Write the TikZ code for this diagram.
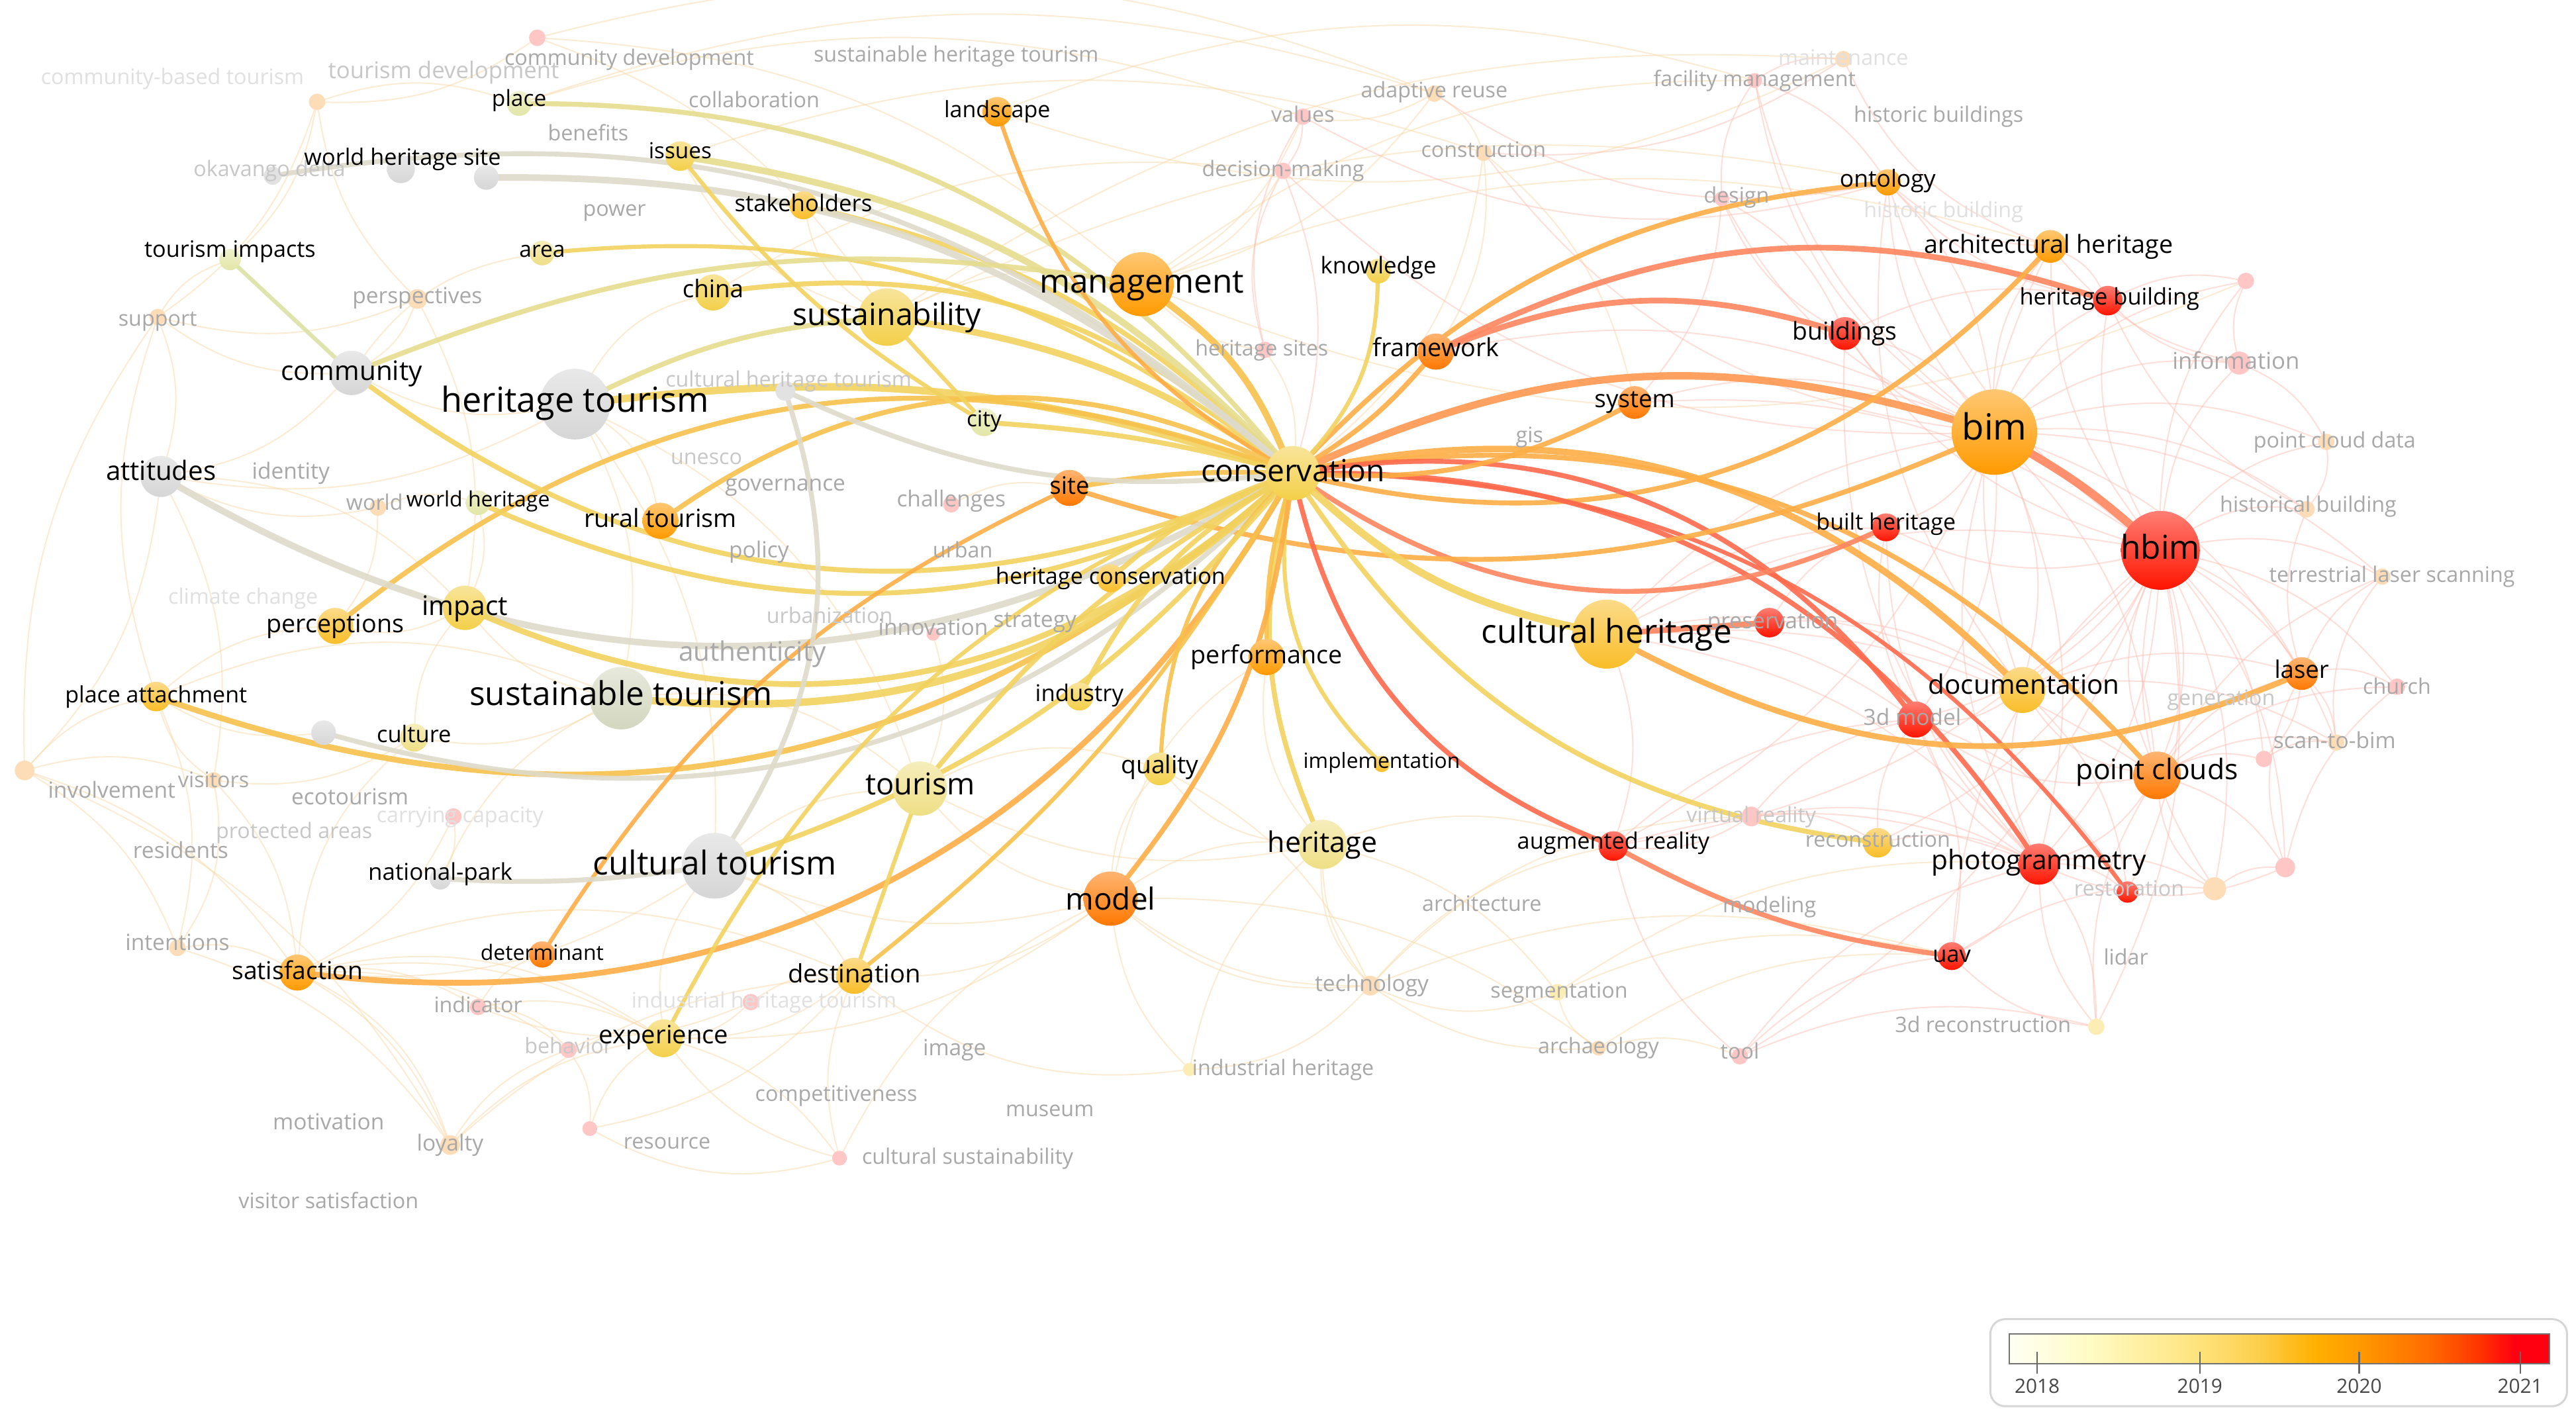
\documentclass[tikz,border=0pt]{standalone}
\usepackage{fontspec}
\setmainfont{Open Sans}
\usetikzlibrary{backgrounds}
\definecolor{nyel}{HTML}{F3CF48}
\definecolor{nyl}{HTML}{EEDF85}
\definecolor{ngold}{HTML}{F9BD28}
\definecolor{norng}{HTML}{FF9A00}
\definecolor{ndor}{HTML}{FF7800}
\definecolor{nred}{HTML}{FF1400}
\definecolor{ngray}{HTML}{D6D6D6}
\definecolor{ngg}{HTML}{D3D7BF}
\definecolor{ngrn}{HTML}{E2E6A6}
\definecolor{fpink}{HTML}{FFC6C6}
\definecolor{forng}{HTML}{FDDCB8}
\definecolor{fyel}{HTML}{FBEDB4}
\definecolor{fgray}{HTML}{E2E2E2}
\definecolor{eyel}{HTML}{F2D25E}
\definecolor{eyg}{HTML}{E6DC8E}
\definecolor{egold}{HTML}{F7C24C}
\definecolor{eorng}{HTML}{FDAE45}
\definecolor{eors}{HTML}{FF9850}
\definecolor{esalm}{HTML}{FF8660}
\definecolor{ered}{HTML}{FF6A4C}
\definecolor{egray}{HTML}{DEDBCB}
\definecolor{egrn}{HTML}{DCE2A6}
\definecolor{fy}{HTML}{F9D9A6}
\definecolor{fp}{HTML}{FDBFB2}
\definecolor{lga}{HTML}{FFFFF4}
\definecolor{lgb}{HTML}{FFFCC6}
\definecolor{lgc}{HTML}{FEE37C}
\definecolor{lgd}{HTML}{FDCE4C}
\definecolor{lge}{HTML}{FFB000}
\definecolor{lgf}{HTML}{FF9A00}
\definecolor{lgg}{HTML}{FF6A00}
\definecolor{lgh}{HTML}{FF3400}
\definecolor{lgi}{HTML}{FF0010}
\tikzset{
  dot/.style={circle, inner sep=0pt, outer sep=0pt, draw=none, minimum size=#1},
  ball/.style={top color=#1!55!white, bottom color=#1},
  lbl/.style={inner sep=0pt, outer sep=0pt, text=black, font=\fontsize{#1}{#1}\selectfont,
              text height={0.74*#1pt}, text depth={0.2*#1pt}},
  flbl/.style={lbl=#1, text=black!34},
  mlbl/.style={lbl=#1, text=black!22},
  vlbl/.style={lbl=#1, text=black!12},
  be/.style={line width=#1, line cap=round, draw opacity=0.9},
  fe/.style={line width=0.8pt, draw=#1, draw opacity=0.5},
}
\begin{document}
\begin{tikzpicture}[x=1pt,y=-1pt]
\useasboundingbox (0,0) rectangle (1568,863);
% ---------- main nodes ----------
\node[dot=33pt, ball=nyel] (cons) at (787,288) {};
\node[dot=39pt, ball=norng] (mgmt) at (695,173) {};
\node[dot=35pt, ball=nyel] (sust) at (540,193) {};
\node[dot=43pt, ball=ngray] (htour) at (350,246) {};
\node[dot=38pt, ball=ngg] (stour) at (378,425) {};
\node[dot=40pt, ball=ngray] (ctour) at (435,527) {};
\node[dot=42pt, ball=ngold] (cher) at (978,386) {};
\node[dot=52pt, ball=norng] (bim) at (1214,263) {};
\node[dot=48pt, ball=nred] (hbim) at (1315,335) {};
\node[dot=33pt, ball=nyl] (tour) at (560,480) {};
\node[dot=33pt, ball=ndor] (model) at (676,547) {};
\node[dot=30pt, ball=nyl] (herit) at (805,514) {};
\node[dot=27pt, ball=ngray] (comm) at (214,227) {};
\node[dot=25pt, ball=ngray] (att) at (98,290) {};
\node[dot=27pt, ball=nyel] (impact) at (283,370) {};
\node[dot=22pt, ball=ngold] (perc) at (204,381) {};
\node[dot=18pt, ball=ngold] (patt) at (95,424) {};
\node[dot=17pt, ball=nyl] (culture) at (252,449) {};
\node[dot=15pt, ball=ngray] (gnode) at (197,446) {};
\node[dot=13pt, ball=ngray] (natp) at (268,535) {};
\node[dot=22pt, ball=norng] (satis) at (181,592) {};
\node[dot=16pt, ball=ndor] (determ) at (330,581) {};
\node[dot=23pt, ball=nyel] (exper) at (404,632) {};
\node[dot=22pt, ball=ngold] (dest) at (520,594) {};
\node[dot=20pt, ball=nyel] (qual) at (706,468) {};
\node[dot=17pt, ball=nyel] (indus) at (657,424) {};
\node[dot=10pt, ball=ngold] (impl) at (841,465) {};
\node[dot=22pt, ball=norng] (perf) at (771,400) {};
\node[dot=17pt, ball=ngold] (hcons) at (676,352) {};
\node[dot=22pt, ball=ndor] (site) at (651,297) {};
\node[dot=17pt, ball=ngrn] (city) at (599,257) {};
\node[dot=22pt, ball=norng] (rural) at (402,317) {};
\node[dot=15pt, ball=ngrn] (wh) at (291,306) {};
\node[dot=22pt, ball=nyel] (china) at (434,178) {};
\node[dot=15pt, ball=nyl] (area) at (330,154) {};
\node[dot=17pt, ball=ngold] (stake) at (489,125) {};
\node[dot=18pt, ball=nyel] (issues) at (414,95) {};
\node[dot=15pt, ball=ngrn] (place) at (316,63) {};
\node[dot=17pt, ball=ngray] (whs) at (244,103) {};
\node[dot=15pt, ball=ngray] (whs2) at (296,108) {};
\node[dot=13pt, ball=ngrn] (timp) at (140,158) {};
\node[dot=18pt, ball=norng] (landsc) at (607,68) {};
\node[dot=15pt, ball=nyel] (knowl) at (839,165) {};
\node[dot=22pt, ball=ndor] (frame) at (874,214) {};
\node[dot=20pt, ball=ndor] (system) at (995,245) {};
\node[dot=16pt, ball=norng] (onto) at (1149,111) {};
\node[dot=20pt, ball=norng] (archh) at (1248,150) {};
\node[dot=18pt, ball=nred] (hbuild) at (1283,183) {};
\node[dot=20pt, ball=nred] (build) at (1123,203) {};
\node[dot=17pt, ball=nred] (bher) at (1148,321) {};
\node[dot=18pt, ball=nred] (pres) at (1077,379) {};
\node[dot=28pt, ball=ngold] (doc) at (1231,420) {};
\node[dot=22pt, ball=nred] (m3d) at (1166,438) {};
\node[dot=20pt, ball=ndor] (laser) at (1401,410) {};
\node[dot=29pt, ball=ndor] (pclouds) at (1313,472) {};
\node[dot=25pt, ball=nred] (photo) at (1241,526) {};
\node[dot=18pt, ball=nred] (ar) at (982,515) {};
\node[dot=17pt, ball=nred] (uav) at (1188,582) {};
\node[dot=18pt, ball=ngold] (recon) at (1143,513) {};
\node[dot=13pt, ball=nred] (resto) at (1295,543) {};
% ---------- faint nodes ----------
\node[dot=10pt, fill=fpink] (cdev) at (327,23) {};
\node[dot=10pt, fill=forng] (cbt) at (193,62) {};
\node[dot=11pt, fill=fgray] (okav) at (166,107) {};
\node[dot=12pt, fill=forng] (persp) at (254,182) {};
\node[dot=10pt, fill=forng] (supp) at (96,193) {};
\node[dot=12pt, fill=fgray] (chtour) at (478,238) {};
\node[dot=10pt, fill=fpink] (chall) at (579,307) {};
\node[dot=10pt, fill=forng] (world) at (230,309) {};
\node[dot=8pt, fill=fpink] (innov) at (568,386) {};
\node[dot=12pt, fill=forng] (invol) at (15,469) {};
\node[dot=10pt, fill=forng] (visit) at (130,475) {};
\node[dot=10pt, fill=fpink] (carry) at (276,497) {};
\node[dot=10pt, fill=forng] (inten) at (108,577) {};
\node[dot=10pt, fill=fpink] (indic) at (291,613) {};
\node[dot=10pt, fill=fpink] (iht) at (457,610) {};
\node[dot=10pt, fill=fpink] (behav) at (346,639) {};
\node[dot=12pt, fill=forng] (loyal) at (274,697) {};
\node[dot=9pt, fill=fpink] (resou) at (359,687) {};
\node[dot=9pt, fill=fpink] (csust) at (511,705) {};
\node[dot=8pt, fill=fyel] (indh) at (724,651) {};
\node[dot=12pt, fill=forng] (techn) at (834,600) {};
\node[dot=10pt, fill=fyel] (segm) at (948,604) {};
\node[dot=9pt, fill=forng] (archa) at (973,638) {};
\node[dot=10pt, fill=fpink] (tool) at (1059,643) {};
\node[dot=10pt, fill=fyel] (r3d) at (1276,625) {};
\node[dot=12pt, fill=fpink] (vr) at (1066,497) {};
\node[dot=10pt, fill=forng] (scan) at (1422,452) {};
\node[dot=10pt, fill=fpink] (pk1) at (1378,462) {};
\node[dot=10pt, fill=fpink] (church) at (1459,418) {};
\node[dot=10pt, fill=forng] (tls) at (1450,351) {};
\node[dot=10pt, fill=forng] (hist) at (1404,310) {};
\node[dot=10pt, fill=forng] (pcd) at (1416,269) {};
\node[dot=14pt, fill=fpink] (info) at (1363,221) {};
\node[dot=10pt, fill=fpink] (pk2) at (1367,171) {};
\node[dot=10pt, fill=fpink] (hsites) at (770,213) {};
\node[dot=10pt, fill=fpink] (dm) at (781,104) {};
\node[dot=10pt, fill=fpink] (vals) at (793,71) {};
\node[dot=10pt, fill=forng] (adapt) at (873,57) {};
\node[dot=10pt, fill=forng] (constr) at (903,93) {};
\node[dot=9pt, fill=fpink] (facil) at (1068,49) {};
\node[dot=10pt, fill=forng] (maint) at (1122,36) {};
\node[dot=9pt, fill=fpink] (design) at (1048,121) {};
\node[dot=14pt, fill=forng] (pk3) at (1348,541) {};
\node[dot=12pt, fill=fpink] (pk4) at (1391,528) {};
% ---------- edges ----------
\begin{scope}[on background layer]
\fill[white] (0,0) rectangle (1568,863);
\foreach \a/\b in {invol/visit, invol/inten, invol/satis, invol/patt, invol/supp, invol/loyal, visit/satis, visit/patt, inten/satis, inten/loyal, satis/loyal, satis/indic, satis/exper, patt/perc, patt/supp, loyal/exper, loyal/behav, loyal/dest, behav/exper, behav/resou, resou/exper, indic/determ, indic/exper, iht/dest, iht/exper, csust/dest, csust/exper, csust/model, carry/natp, carry/satis, persp/supp, persp/comm, persp/impact, persp/cbt, cbt/place, cbt/timp, cbt/supp, supp/att, supp/timp, att/invol, world/wh, world/perc, world/att, chall/site, innov/tour, indh/model, indh/herit, techn/model, techn/ar, techn/herit, techn/uav, segm/uav, segm/photo, archa/uav, archa/tool, archa/techn, model/herit, model/qual, model/dest, model/tour, model/exper, model/ctour, herit/ar, herit/tour, dest/exper, natp/stour, gnode/patt, culture/impact, stour/impact, stour/culture, ctour/dest, ctour/tour, ctour/satis, adapt/vals, adapt/constr, constr/frame, constr/system, adapt/mgmt, hsites/mgmt, hsites/cons, dm/mgmt, vals/mgmt, cdev/sust, cdev/mgmt, cdev/cbt, sust/mgmt, htour/comm, htour/att, htour/stour, htour/ctour, comm/att, impact/perc, place/adapt, sust/onto, mgmt/archh, mgmt/facil, landsc/facil, issues/constr, china/dm, place/vals, cdev/adapt, sust/maint, herit/segm, model/archa, qual/techn, dest/resou, exper/csust, satis/behav, patt/inten, att/visit, comm/supp, wh/impact, culture/visit}
  \draw[fe=fy] (\a) to[bend left=18] (\b);
\foreach \a/\b in {loyal/satis, inten/visit, tour/stour, tour/htour, qual/herit, qual/tour, perf/model, perf/herit, dest/satis, exper/satis, indic/iht, behav/indic, resou/csust, techn/segm, segm/archa, indh/techn, vr/techn, herit/techn, model/techn, dest/indh, ctour/exper, impact/att, stour/patt, culture/satis, rural/htour, china/htour, area/comm, stake/sust, issues/sust, mgmt/pk2, landsc/maint, cons/constr}
  \draw[fe=fy] (\a) to[bend right=22] (\b);
\foreach \a/\b in {hbim/pcd, hbim/hist, hbim/tls, hbim/info, hbim/pk2, hbim/scan, hbim/church, hbim/laser, hbim/pclouds, hbim/photo, hbim/doc, hbim/m3d, hbim/bher, hbim/hbuild, hbim/archh, hbim/build, hbim/onto, hbim/pk1, hbim/pk3, hbim/pk4, hbim/resto, bim/hbuild, bim/archh, bim/build, bim/info, bim/pcd, bim/doc, bim/pclouds, bim/photo, bim/laser, bim/tls, bim/m3d, bim/bher, bim/facil, bim/design, bim/onto, pclouds/tls, pclouds/scan, pclouds/photo, pclouds/laser, pclouds/pk4, photo/uav, photo/pk3, photo/m3d, photo/resto, photo/doc, laser/church, laser/tls, laser/scan, laser/hist, info/pk2, info/hbuild, info/archh, hist/hbuild, design/facil, design/build, facil/maint, facil/onto, maint/constr, dm/cons, vals/dm, design/system, pk1/scan, m3d/uav, m3d/resto, doc/resto, ar/photo, ar/m3d, vr/m3d, recon/photo, recon/m3d, tool/r3d, tool/uav, tool/ar, tool/photo, r3d/uav, r3d/photo, r3d/pclouds, vr/ar, vr/recon, vr/photo, uav/pk3, pk3/pk4, pk4/church, cher/m3d, cher/doc, cher/bher, cher/ar, cher/photo, cher/pclouds, cher/hbim, cher/bim, pres/bher, pres/doc, system/bim, system/hbim, frame/bim, build/hbuild, build/bim, archh/hbuild, onto/bim, hbuild/pk2, info/pcd, hbim/recon, hbim/r3d, hbim/tool, bim/pk2, bim/hist, doc/laser, doc/scan, laser/pk1, pclouds/church, pclouds/pk1, photo/r3d, m3d/bher, hbim/ar, bim/ar, doc/m3d, hbuild/onto, archh/onto, build/design}
  \draw[fe=fp] (\a) to[bend left=18] (\b);
\foreach \a/\b in {hbim/pclouds, bim/photo, hbim/uav, doc/pclouds, m3d/pclouds, bher/photo, build/photo, archh/doc, onto/doc, facil/bim, maint/archh, dm/bim, vals/onto, adapt/onto, constr/bim, vals/hsites, dm/hsites, hbim/pk3, photo/pk4, pclouds/pk3, laser/pk4, tls/scan, hist/pcd}
  \draw[fe=fp] (\a) to[bend right=22] (\b);
% bold edges
\draw[be=4.5pt, eyel] (cons) to[bend right=12] (htour);
\draw[be=4pt, eyel] (cons) to[bend right=12] (sust);
\draw[be=3pt, eyel] (cons) to[bend right=24] (china);
\draw[be=2.5pt, eyel] (cons) to[bend right=21] (area);
\draw[be=3pt, eyel] (cons) to[bend right=15] (stake);
\draw[be=4pt, eyg] (cons) to[bend right=18] (issues);
\draw[be=3pt, eyg] (cons) to[bend right=25] (place);
\draw[be=4pt, egray] (cons) to[bend right=20] (whs2);
\draw[be=3pt, egray] (cons) to[bend right=25] (okav);
\draw[be=2.5pt, eorng] (cons) to[bend left=20] (landsc);
\draw[be=4pt, egold] (cons) to[bend right=15] (mgmt);
\draw[be=3pt, eorng] (cons) to[bend left=20] (onto);
\draw[be=3.5pt, esalm] (frame) to[bend left=22] (hbuild);
\draw[be=3.5pt, esalm] (frame) to[bend left=19] (build);
\draw[be=4.5pt, eors] (cons) to[bend left=20] (bim);
\draw[be=3pt, eorng] (cons) to[bend right=30] (archh);
\draw[be=4pt, eorng] (cons) to[bend left=28] (doc);
\draw[be=3pt, eorng] (cons) to[bend left=28] (pclouds);
\draw[be=3pt, ered] (cons) to[bend left=30] (m3d);
\draw[be=3pt, ered] (cons) to[bend left=28] (photo);
\draw[be=2.5pt, ered] (cons) to[bend left=26] (resto);
\draw[be=3pt, esalm] (cons) to[bend right=29] (bher);
\draw[be=3pt, eorng] (site) to[bend right=20] (bim);
\draw[be=3pt, egold] (rural) to[bend left=30] (cons);
\draw[be=3pt, egold] (perc) to[bend left=29] (cons);
\draw[be=3pt, eyel] (wh) to[bend right=25] (cons);
\draw[be=3pt, eyel] (comm) to[bend right=30] (cons);
\draw[be=4pt, egray] (att) to[bend right=30] (cons);
\draw[be=3.5pt, eyel] (impact) to[bend right=32] (cons);
\draw[be=3.5pt, egold] (patt) to[bend right=30] (cons);
\draw[be=3pt, egray] (gnode) to[bend right=30] (cons);
\draw[be=4.5pt, eyel] (stour) to[bend right=23] (cons);
\draw[be=3.5pt, eorng] (satis) to[bend right=33] (cons);
\draw[be=2.5pt, eorng] (determ) to[bend left=16] (site);
\draw[be=4.5pt, eyel] (cons) to[bend right=15] (cher);
\draw[be=3.5pt, eorng] (cher) to[bend right=25] (laser);
\draw[be=3pt, ered] (cons) to[bend right=27] (ar);
\draw[be=3pt, esalm] (ar) to[bend right=10] (uav);
\draw[be=3pt, eyel] (cons) to[bend right=24] (recon);
\draw[be=2.5pt, eyel] (cons) to[bend right=27] (impl);
\draw[be=3pt, eyel] (cons) to[bend right=18] (herit);
\draw[be=2.5pt, egold] (cons) to[bend right=8] (perf);
\draw[be=3pt, eorng] (cons) to[bend left=15] (model);
\draw[be=2.5pt, egold] (cons) to[bend right=20] (qual);
\draw[be=3pt, eyel] (cons) to[bend right=15] (indus);
\draw[be=3pt, eyel] (cons) to[bend right=10] (hcons);
\draw[be=3pt, eyel] (cons) to[bend right=10] (tour);
\draw[be=2.5pt, egold] (cons) to[bend left=10] (dest);
\draw[be=2.5pt, eyel] (cons) to[bend right=20] (exper);
\draw[be=3pt, eyel] (cons) to[bend left=15] (ctour);
\draw[be=2.5pt, eyel] (cons) to[bend right=20] (knowl);
\draw[be=3pt, eorng] (cons) to[bend right=8] (frame);
\draw[be=3pt, eorng] (cons) to[bend right=15] (system);
\draw[be=3pt, eyel] (cons) to[bend right=5] (city);
\draw[be=3pt, egold] (cons) to[bend right=5] (site);
\draw[be=5pt, esalm] (bim) to[bend left=5] (hbim);
\draw[be=3.5pt, esalm] (cher) -- (pres);
\draw[be=2.5pt, egrn] (timp) -- (comm);
\draw[be=3pt, egray] (natp) to[bend right=5] (ctour);
\draw[be=3pt, egray] (ctour) to[bend right=25] (chtour);
\draw[be=3pt, eyg] (htour) to[bend left=10] (sust);
\draw[be=3pt, egray] (chtour) to[bend right=15] (cons);
\draw[be=3pt, eyg] (comm) to[bend left=15] (mgmt);
\draw[be=2.5pt, eyel] (issues) to[bend right=10] (city);
\draw[be=2.5pt, eyel] (sust) -- (city);
\draw[be=2.5pt, eyel] (tour) -- (dest);
\end{scope}
% ---------- faded labels ----------
\node[flbl=13] (f-cdev) at (383,36) {community development};
\node[mlbl=14] (f-tdev) at (270,44) {tourism development};
\node[vlbl=13] (f-cbt) at (105,48) {community-based tourism};
\node[flbl=13] (f-sht) at (582,34) {sustainable heritage tourism};
\node[flbl=13] (f-collab) at (459,62) {collaboration};
\node[flbl=13] (f-benef) at (358,82) {benefits};
\node[mlbl=13] (f-okav) at (164,104) {okavango delta};
\node[flbl=13] (f-power) at (374,128) {power};
\node[flbl=13.5] (f-persp) at (254,181) {perspectives};
\node[flbl=13] (f-supp) at (96,195) {support};
\node[mlbl=13] (f-chtour) at (480,232) {cultural heritage tourism};
\node[flbl=13.5] (f-ident) at (177,288) {identity};
\node[mlbl=13] (f-unesco) at (430,279) {unesco};
\node[flbl=13.5] (f-gov) at (478,295) {governance};
\node[flbl=13.5] (f-chall) at (579,305) {challenges};
\node[flbl=13] (f-world) at (228,307) {world};
\node[flbl=13.5] (f-policy) at (462,336) {policy};
\node[flbl=13] (f-urban) at (586,336) {urban};
\node[vlbl=13] (f-climate) at (148,364) {climate change};
\node[mlbl=13] (f-urbz) at (505,376) {urbanization};
\node[flbl=13.5] (f-innov) at (568,383) {innovation};
\node[flbl=13.5] (f-strat) at (630,378) {strategy};
\node[flbl=16.3] (f-auth) at (458,398) {authenticity};
\node[flbl=13.5] (f-invol) at (68,482) {involvement};
\node[flbl=13] (f-visit) at (130,476) {visitors};
\node[flbl=13.5] (f-eco) at (213,486) {ecotourism};
\node[vlbl=13] (f-carry) at (280,497) {carrying capacity};
\node[mlbl=13] (f-prot) at (179,507) {protected areas};
\node[flbl=13.5] (f-resid) at (110,519) {residents};
\node[flbl=13.5] (f-inten) at (108,575) {intentions};
\node[flbl=13] (f-indic) at (291,613) {indicator};
\node[vlbl=13] (f-iht) at (465,610) {industrial heritage tourism};
\node[mlbl=13] (f-behav) at (346,638) {behavior};
\node[flbl=13.5] (f-image) at (581,639) {image};
\node[flbl=13] (f-compet) at (509,667) {competitiveness};
\node[flbl=13] (f-museum) at (639,676) {museum};
\node[flbl=13.5] (f-motiv) at (200,684) {motivation};
\node[flbl=13.5] (f-loyal) at (274,697) {loyalty};
\node[flbl=13] (f-resou) at (406,696) {resource};
\node[flbl=13] (f-csust) at (589,705) {cultural sustainability};
\node[flbl=13] (f-vsat) at (200,732) {visitor satisfaction};
\node[flbl=13] (f-indh) at (781,651) {industrial heritage};
\node[flbl=13.5] (f-techn) at (835,600) {technology};
\node[flbl=13] (f-segm) at (949,604) {segmentation};
\node[flbl=13] (f-archa) at (973,638) {archaeology};
\node[flbl=13] (f-tool) at (1059,641) {tool};
\node[flbl=13] (f-r3d) at (1207,625) {3d reconstruction};
\node[flbl=13] (f-lidar) at (1294,584) {lidar};
\node[flbl=13] (f-archi) at (902,551) {architecture};
\node[flbl=13] (f-model) at (1077,552) {modeling};
\node[mlbl=13] (f-vr) at (1066,497) {virtual reality};
\node[flbl=13] (f-recon) at (1143,512) {reconstruction};
\node[mlbl=13] (f-resto) at (1296,542) {restoration};
\node[flbl=13.5] (f-m3d) at (1164,438) {3d model};
\node[flbl=13.5] (f-pres) at (1079,379) {preservation};
\node[mlbl=13] (f-gen) at (1352,426) {generation};
\node[flbl=13.5] (f-scan) at (1421,452) {scan-to-bim};
\node[flbl=13] (f-church) at (1459,419) {church};
\node[flbl=13] (f-tls) at (1456,351) {terrestrial laser scanning};
\node[flbl=13] (f-hist) at (1405,308) {historical building};
\node[flbl=13] (f-pcd) at (1421,269) {point cloud data};
\node[flbl=14] (f-info) at (1361,221) {information};
\node[flbl=13] (f-hsites) at (768,213) {heritage sites};
\node[flbl=13] (f-gis) at (931,266) {gis};
\node[flbl=13] (f-dm) at (781,104) {decision-making};
\node[flbl=13] (f-vals) at (793,71) {values};
\node[flbl=13] (f-adapt) at (873,56) {adaptive reuse};
\node[flbl=13] (f-constr) at (903,92) {construction};
\node[flbl=13] (f-facil) at (1068,49) {facility management};
\node[vlbl=13] (f-maint) at (1122,36) {maintenance};
\node[flbl=13] (f-hbs) at (1180,71) {historic buildings};
\node[flbl=13] (f-design) at (1057,120) {design};
\node[vlbl=13] (f-hb) at (1183,129) {historic building};
% ---------- main labels ----------
\node[lbl=18.6] (cons-t) at (787,288) {conservation};
\node[lbl=20] (mgmt-t) at (695,173) {management};
\node[lbl=18.7] (sust-t) at (540,193) {sustainability};
\node[lbl=21] (htour-t) at (350,245) {heritage tourism};
\node[lbl=20] (stour-t) at (378,424) {sustainable tourism};
\node[lbl=20] (ctour-t) at (435,527) {cultural tourism};
\node[lbl=20] (cher-t) at (978,386) {cultural heritage};
\node[lbl=22] (bim-t) at (1214,262) {bim};
\node[lbl=20] (hbim-t) at (1315,335) {hbim};
\node[lbl=18.3] (tour-t) at (560,479) {tourism};
\node[lbl=18.5] (model-t) at (676,549) {model};
\node[lbl=17.3] (herit-t) at (805,514) {heritage};
\node[lbl=16.3] (comm-t) at (214,227) {community};
\node[lbl=16.2] (att-t) at (98,288) {attitudes};
\node[lbl=16.4] (impact-t) at (283,370) {impact};
\node[lbl=15.2] (perc-t) at (204,381) {perceptions};
\node[lbl=13.7] (patt-t) at (95,424) {place attachment};
\node[lbl=13.9] (culture-t) at (252,448) {culture};
\node[lbl=14.1] (natp-t) at (268,532) {national-park};
\node[lbl=15] (satis-t) at (181,592) {satisfaction};
\node[lbl=12.9] (determ-t) at (330,581) {determinant};
\node[lbl=15.4] (exper-t) at (404,631) {experience};
\node[lbl=15.4] (dest-t) at (520,594) {destination};
\node[lbl=15] (qual-t) at (706,467) {quality};
\node[lbl=14] (indus-t) at (657,423) {industry};
\node[lbl=12.8] (impl-t) at (841,464) {implementation};
\node[lbl=15.2] (perf-t) at (771,400) {performance};
\node[lbl=13.8] (hcons-t) at (676,352) {heritage conservation};
\node[lbl=14.7] (site-t) at (651,297) {site};
\node[lbl=13.4] (city-t) at (599,256) {city};
\node[lbl=15.2] (rural-t) at (402,317) {rural tourism};
\node[lbl=12.9] (wh-t) at (291,305) {world heritage};
\node[lbl=14.8] (china-t) at (434,177) {china};
\node[lbl=13.5] (area-t) at (330,153) {area};
\node[lbl=14] (stake-t) at (489,125) {stakeholders};
\node[lbl=13.4] (issues-t) at (414,93) {issues};
\node[lbl=13.5] (place-t) at (316,61) {place};
\node[lbl=13.8] (whs-t) at (245,97) {world heritage site};
\node[lbl=13.8] (timp-t) at (140,153) {tourism impacts};
\node[lbl=13.7] (landsc-t) at (607,68) {landscape};
\node[lbl=14] (knowl-t) at (839,163) {knowledge};
\node[lbl=15.2] (frame-t) at (874,213) {framework};
\node[lbl=14.8] (system-t) at (995,244) {system};
\node[lbl=14.3] (onto-t) at (1149,110) {ontology};
\node[lbl=15.2] (archh-t) at (1247,150) {architectural heritage};
\node[lbl=13.9] (hbuild-t) at (1284,182) {heritage building};
\node[lbl=15] (build-t) at (1123,203) {buildings};
\node[lbl=13.7] (bher-t) at (1148,319) {built heritage};
\node[lbl=16.3] (doc-t) at (1232,418) {documentation};
\node[lbl=14.7] (laser-t) at (1401,409) {laser};
\node[lbl=17.2] (pclouds-t) at (1313,470) {point clouds};
\node[lbl=16.4] (photo-t) at (1241,525) {photogrammetry};
\node[lbl=13.8] (ar-t) at (982,513) {augmented reality};
\node[lbl=13.9] (uav-t) at (1188,582) {uav};
% ---------- legend ----------
\node[draw=black!16, line width=1.2pt, rounded corners=9pt, fill=white, minimum width=351pt, minimum height=53pt, inner sep=0pt] (legend) at (1387,829.5) {};
\shade[left color=lga, right color=lgb] (1223,812) rectangle (1270.5,830);
\shade[left color=lgb, right color=lgc] (1270,812) rectangle (1339.5,830);
\shade[left color=lgc, right color=lgd] (1339,812) rectangle (1375.5,830);
\shade[left color=lgd, right color=lge] (1375,812) rectangle (1409.5,830);
\shade[left color=lge, right color=lgf] (1409,812) rectangle (1436.5,830);
\shade[left color=lgf, right color=lgg] (1436,812) rectangle (1479.5,830);
\shade[left color=lgg, right color=lgh] (1479,812) rectangle (1509.5,830);
\shade[left color=lgh, right color=lgi] (1509,812) rectangle (1530.5,830);
\fill[lgi] (1530,812) rectangle (1552,830);
\draw[black!55, line width=0.9pt] (1223,812) rectangle (1552,830);
\foreach \x in {1240,1339,1436,1534} \draw[black!60, line width=0.9pt] (\x,823) -- (\x,836);
\node[lbl=12, text=black!72] (y2018) at (1240,845) {2018};
\node[lbl=12, text=black!72] (y2019) at (1339,845) {2019};
\node[lbl=12, text=black!72] (y2020) at (1436,845) {2020};
\node[lbl=12, text=black!72] (y2021) at (1534,845) {2021};
\end{tikzpicture}
\end{document}
